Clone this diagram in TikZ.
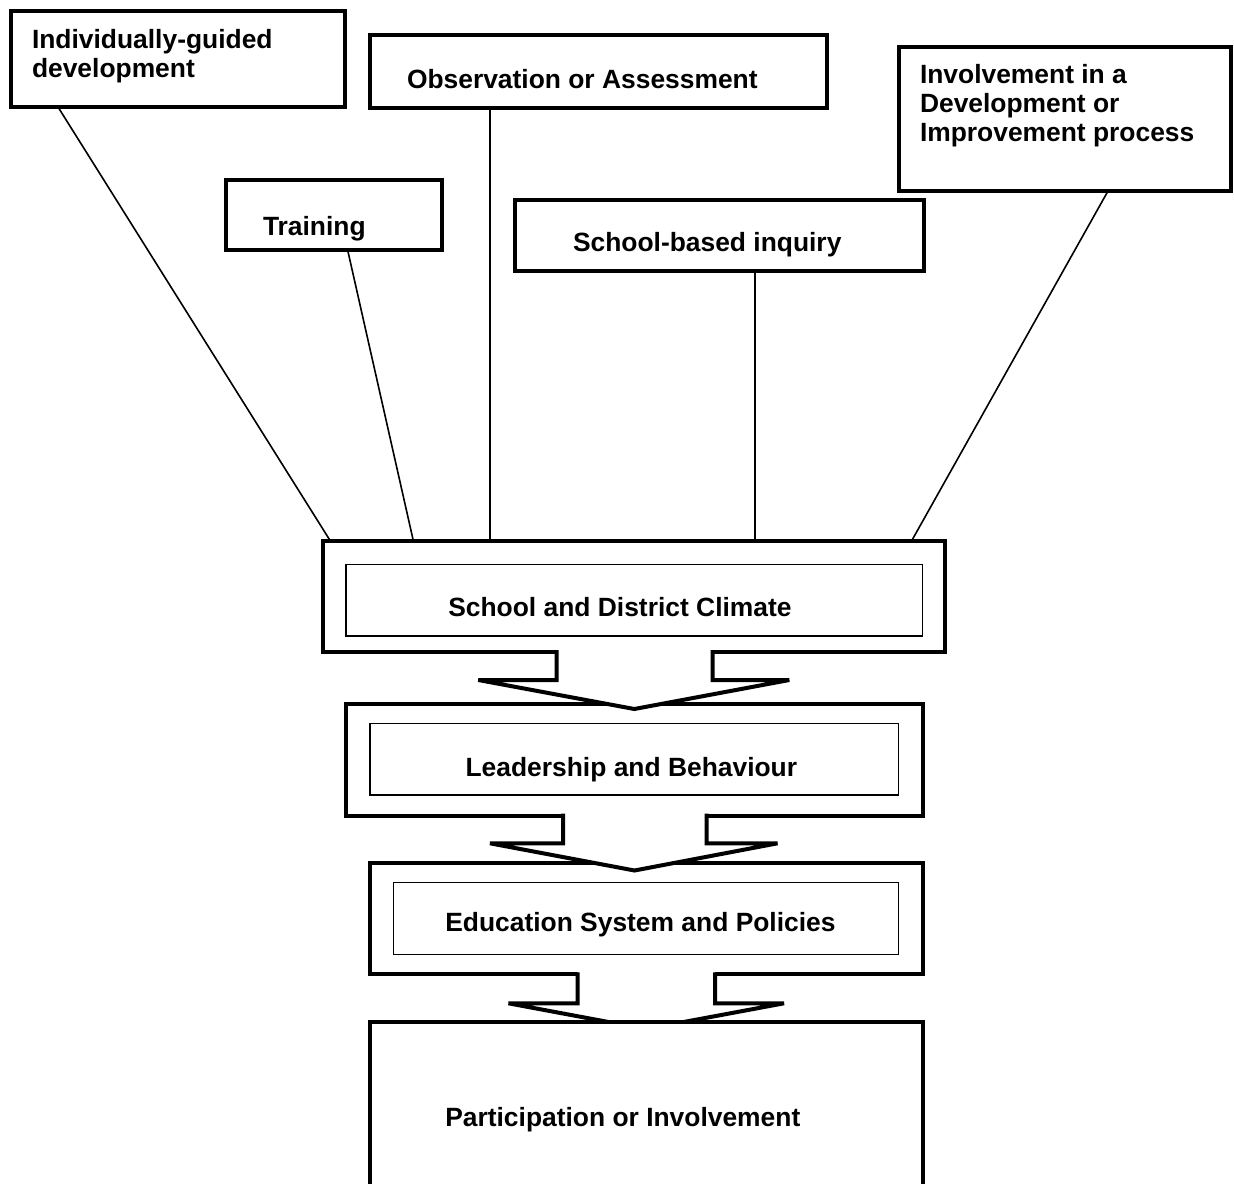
\documentclass[tikz,border=0pt]{standalone}
\usepackage{fontspec}
\setmainfont{Liberation Sans}
\usetikzlibrary{calc}
\newcommand{\pbox}[6]{\node[#1, minimum width={(#4-#2)*0.75pt}, minimum height={(#5-#3)*0.75pt}] (#6) at ({(#2+#4)/2},{(#3+#5)/2}) {};}
\begin{document}
\begin{tikzpicture}[x=0.75pt,y=-0.75pt,
  box/.style={draw, line width=3pt, rectangle, outer sep=0pt, inner sep=0pt, fill=white},
  inbox/.style={draw, line width=1.1pt, rectangle, outer sep=0pt, inner sep=0pt},
  lbl/.style={anchor=base west, inner sep=0pt, outer sep=0pt, font=\fontsize{19.8}{21.9}\selectfont\bfseries, align=left},
  conn/.style={line width=1.2pt},
  blockarrow/.style={line width=3pt}
]
\useasboundingbox (0,0) rectangle (1234,1184);
\fill[white] (0,0) rectangle (1234,1184);

% top boxes
\pbox{box}{10.5}{11}{345.3}{107}{indiv}
\pbox{box}{370.3}{35.5}{827.2}{108}{obs}
\pbox{box}{898.7}{47}{1231}{191}{invol}
\pbox{box}{226.2}{180.3}{442}{250.3}{train}
\pbox{box}{514.5}{199.5}{923.8}{270.5}{inq}

% multi-line labels: anchor base = baseline of the last line
\node[lbl] (tindiv) at (32,77.5) {Individually-guided\\development};
\node[lbl] (tobs) at (407,88.3) {Observation or Assessment};
\node[lbl] (tinvol) at (920,141.7) {Involvement in a\\Development or\\Improvement process};
\node[lbl] (ttrain) at (263,235) {Training};
\node[lbl] (tinq) at (573,251.7) {School-based inquiry};

% climate
\pbox{box}{322.7}{540.7}{945}{652}{clim}
\pbox{inbox}{346}{564.3}{922.7}{636}{climin}
\node[lbl] (tclim) at (448.3,616.7) {School and District Climate};

% leadership
\pbox{box}{346}{704}{922.7}{815.7}{lead}
\pbox{inbox}{370}{723.3}{898.5}{795}{leadin}
\node[lbl] (tlead) at (465.6,776) {Leadership and Behaviour};

% education
\pbox{box}{370}{862.5}{922.7}{974.3}{edu}
\pbox{inbox}{393.5}{882.3}{898.5}{954.3}{eduin}
\node[lbl] (tedu) at (445.3,931.7) {Education System and Policies};

% connectors
\draw[conn] ($(indiv.south west)+(47.5,0)$) -- ($(clim.north west)+(7.5,0)$);
\draw[conn] ($(train.south west)+(121.5,0)$) -- ($(clim.north west)+(90.6,0)$);
\draw[conn] ($(obs.south west)+(119.7,0)$) -- ($(clim.north west)+(167.3,0)$);
\draw[conn] ($(inq.south west)+(240.5,0)$) -- ($(clim.north west)+(432.3,0)$);
\draw[conn] ($(invol.south west)+(209.3,0)$) -- ($(clim.north west)+(589,0)$);

% block arrow 1
\fill[white] (556.7,648.5) -- (556.7,680) -- (478.3,680) -- (634.3,709) -- (789.3,680) -- (712.7,680) -- (712.7,648.5) -- cycle;
\draw[blockarrow] (556.7,650) -- (556.7,680) -- (478.3,680) -- (634.3,709) -- (789.3,680) -- (712.7,680) -- (712.7,650);

% block arrow 2
\fill[white] (563,812.2) -- (563,843.3) -- (490,843.3) -- (634.5,870.5) -- (777.5,843.3) -- (706.5,843.3) -- (706.5,812.2) -- cycle;
\draw[blockarrow] (563,813.7) -- (563,843.3) -- (490,843.3) -- (634.5,870.5) -- (777.5,843.3) -- (706.5,843.3) -- (706.5,813.7);

% block arrow 3
\fill[white] (577.5,970.8) -- (577.5,1003.3) -- (508.5,1003.3) -- (646,1029) -- (784,1003.3) -- (715,1003.3) -- (715,970.8) -- cycle;
\draw[blockarrow] (577.5,972.3) -- (577.5,1003.3) -- (508.5,1003.3) -- (646,1029) -- (784,1003.3) -- (715,1003.3) -- (715,972.3);

% participation
\pbox{box}{370.4}{1021.7}{922.7}{1200}{part}
\node[lbl] (tpart) at (445.3,1126.7) {Participation or Involvement};
\end{tikzpicture}
\end{document}
